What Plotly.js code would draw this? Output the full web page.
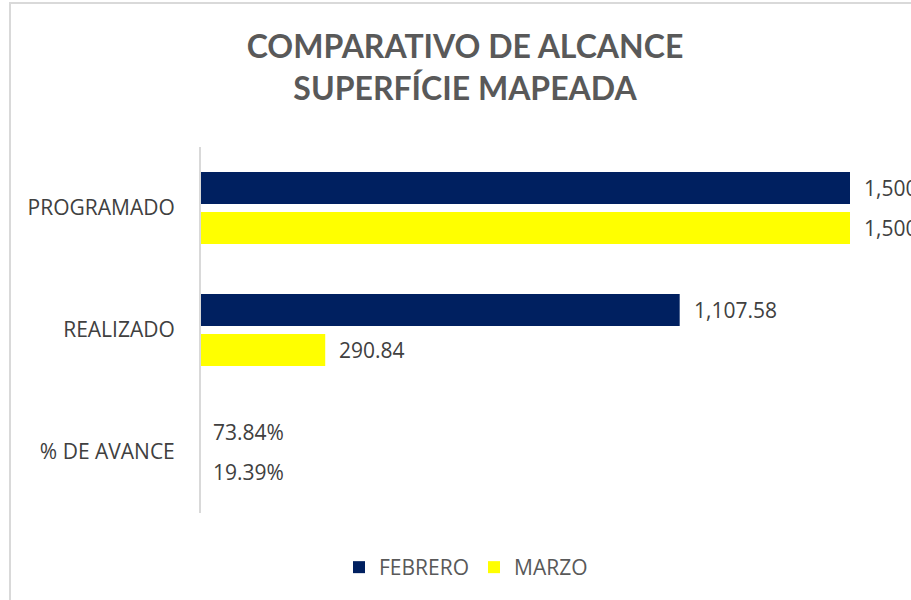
<!DOCTYPE html>
<html><head><meta charset="utf-8">
<script src="https://cdn.plot.ly/plotly-3.0.1.min.js"></script>
<style>html,body{margin:0;padding:0;background:#fff;overflow:hidden}
#frame{position:absolute;left:9px;top:2px;width:1000px;height:700px;border:2px solid #d9d9d9;pointer-events:none;box-sizing:border-box}
</style></head>
<body><div id="chart" style="width:911px;height:600px"></div><div id="frame"></div>
<script>
const categories = ["PROGRAMADO", "REALIZADO", "% DE AVANCE"];
const febrero = [1500, 1107.58, 0.7384];
const marzo = [1500, 290.84, 0.1939];
const seriesNames = ["FEBRERO", "MARZO"];
const seriesColors = ["#002060", "#FFFF00"];

function fmt(v, cat) {
  if (cat === "% DE AVANCE") return (v * 100).toFixed(2) + "%";
  const isInt = Math.abs(v - Math.round(v)) < 1e-9;
  return v.toLocaleString("en-US", {minimumFractionDigits: isInt ? 0 : 2, maximumFractionDigits: 2});
}

const labelFont = "'Open Sans', 'Noto Sans', sans-serif";
const series = [febrero, marzo];
const traces = series.map((vals, i) => ({
  type: "bar", orientation: "h", name: seriesNames[i],
  y: categories, x: vals,
  marker: {color: seriesColors[i], line: {width: 0}},
  hoverinfo: "none"
}));

const annotations = [];
series.forEach((vals, i) => {
  vals.forEach((v, j) => {
    annotations.push({
      x: v, y: categories[j], xref: "x", yref: "y",
      text: fmt(v, categories[j]), showarrow: false,
      xanchor: "left", yanchor: "middle",
      xshift: 12, yshift: i === 0 ? 20 : -20,
      font: {family: labelFont, size: 21, color: "#404040"}
    });
  });
});

const plotW = 911 - 199;
const layout = {
  width: 911, height: 600,
  margin: {l: 199, r: 0, t: 147, b: 87},
  paper_bgcolor: "#fff", plot_bgcolor: "#fff",
  title: {
    text: "COMPARATIVO DE ALCANCE<br>SUPERFÍCIE MAPEADA",
    font: {family: "Lato, 'Open Sans', sans-serif", size: 32, color: "#595959", weight: "bold"},
    xref: "container", x: 465 / 911, xanchor: "center",
    yref: "container", y: 1 - 58 / 600, yanchor: "top"
  },
  barmode: "group", bargap: 0.344, bargroupgap: 0.2,
  xaxis: {range: [0, 1500 * plotW / 651], showgrid: false, zeroline: false, showticklabels: false, showline: false},
  yaxis: {
    autorange: "reversed", showgrid: false, zeroline: false, showline: false,
    ticks: "outside", ticklen: 19, tickcolor: "rgba(0,0,0,0)",
    tickfont: {family: labelFont, size: 21, color: "#404040"}
  },
  shapes: [{
    type: "line", xref: "x", yref: "paper", x0: 0, x1: 0, y0: 0, y1: 1,
    line: {color: "#d9d9d9", width: 4}, layer: "above"
  }],
  showlegend: true,
  legend: {
    orientation: "h", xref: "container", x: 466 / 911, xanchor: "center",
    yref: "container", y: 1 - 547 / 600, yanchor: "top",
    font: {family: labelFont, size: 21, color: "#595959"},
    itemwidth: 30,
    itemclick: false, itemdoubleclick: false
  },
  annotations: annotations
};
Plotly.newPlot("chart", traces, layout, {displayModeBar: false, staticPlot: true});
</script></body></html>
